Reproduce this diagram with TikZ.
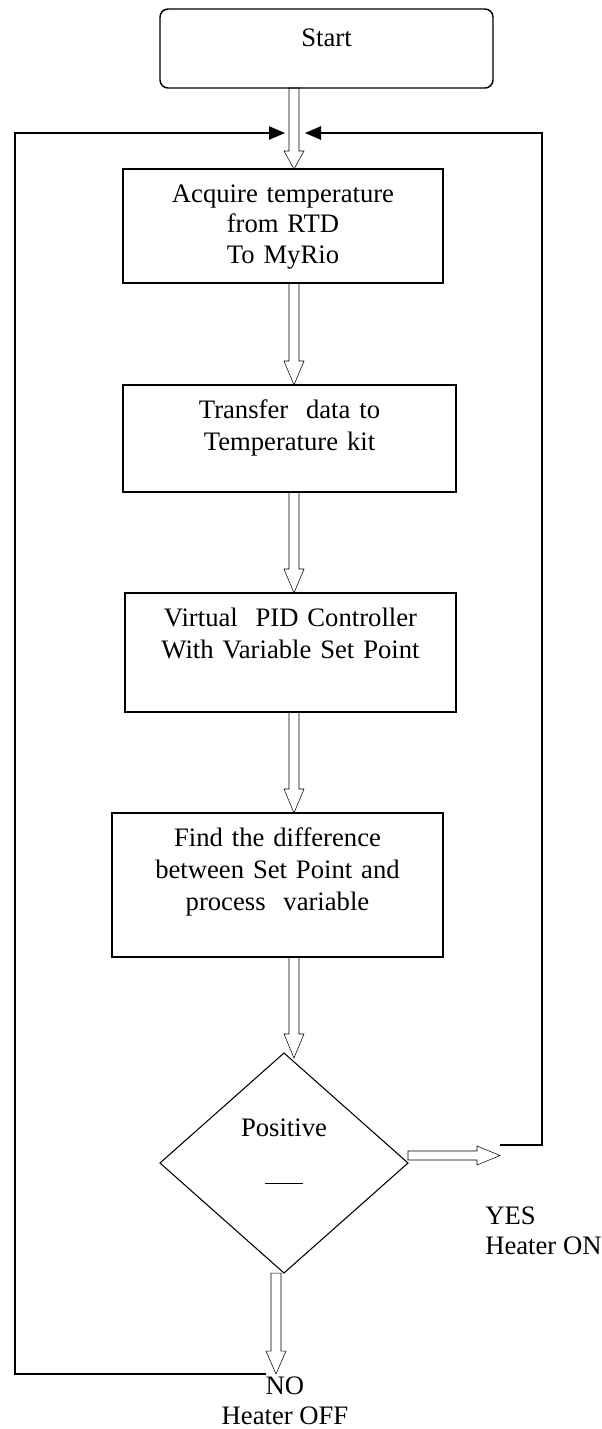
\documentclass[tikz,border=0pt]{standalone}
\usepackage{fontspec}
\setmainfont{Liberation Serif}
\usepackage{tikz}
\usetikzlibrary{arrows.meta,positioning,calc,shapes.geometric}
\tikzset{
  startbox/.style={
    rounded corners=6pt,draw=black,line width=1.1pt,
    text width=249.75pt,align=center,inner sep=0pt,outer sep=0pt,
    text height=27.75pt,text depth=31.5pt,
    font=\fontsize{20pt}{24pt}\selectfont
  },
  procbox/.style={
    draw=black,line width=1.1pt,text width=#1,align=center,
    inner sep=0pt,outer sep=0pt,text height=24.75pt,
    font=\fontsize{20pt}{24pt}\selectfont
  },
  decision/.style={
    diamond,draw=black,line width=.8pt,inner sep=0pt,outer sep=0pt,
    minimum width=186pt,minimum height=165pt,align=center,
    font=\fontsize{20pt}{24pt}\selectfont
  },
  lbl/.style={inner sep=0pt,font=\fontsize{20pt}{22.5pt}\selectfont},
  vblock/.style={line width=.8pt,to path={
    ($(\tikztostart)+(-5,0)$) -- ($(\tikztotarget)+(-5,-#1)$)
    -- ($(\tikztotarget)+(-10,-#1)$) -- (\tikztotarget)
    -- ($(\tikztotarget)+(10,-#1)$) -- ($(\tikztotarget)+(5,-#1)$)
    -- ($(\tikztostart)+(5,0)$) -- cycle}},
  vblock/.default=24,
  hblock/.style={line width=.8pt,to path={
    ($(\tikztostart)+(0,-4.5)$) -- ($(\tikztotarget)+(-#1,-4.5)$)
    -- ($(\tikztotarget)+(-#1,-9.5)$) -- (\tikztotarget)
    -- ($(\tikztotarget)+(-#1,9.5)$) -- ($(\tikztotarget)+(-#1,4.5)$)
    -- ($(\tikztostart)+(0,4.5)$) -- cycle}},
  hblock/.default=23,
  feedback/.style={-{Triangle[length=12pt,width=10pt]},draw=black,line width=1.1pt}
}
\begin{document}
\begin{tikzpicture}[x=0.75pt,y=-0.75pt]
\useasboundingbox (0,0) rectangle (602,1429);

\node[startbox] (start) at (326.5,48.5) {Start};
\node[procbox=240pt,below=60.75pt of start,xshift=-32.625pt,text depth=60.75pt,
  font=\fontsize{20pt}{23pt}\selectfont] (acq) {Acquire temperature\\from RTD\\To MyRio};
\node[procbox=249.75pt,below=76.5pt of acq,xshift=4.875pt,text depth=55.5pt] (trans)
  {Transfer\ \ data to\\Temperature kit};
\node[procbox=248.25pt,below=75.75pt of trans,xshift=.75pt,text depth=64.5pt] (pid)
  {Virtual\ \ PID Controller\\With Variable Set Point};
\node[procbox=248.25pt,below=75.75pt of pid,xshift=-9.75pt,text depth=83.25pt] (find)
  {Find the difference\\between Set Point and\\process\ \ variable};
\node[decision,below=72pt of find,xshift=4.875pt,text height=63pt,text depth=31.5pt] (dia)
  {Positive\\[12pt]\rule{28.5pt}{.8pt}};

\coordinate (axis) at (294,0);
\coordinate (ltip) at ($(acq.north -| axis)+(-9,-36)$);
\coordinate (rtip) at ($(acq.north -| axis)+(11,-36)$);
\coordinate (lcorner) at (15,133);
\coordinate (rcorner) at (542,133);
\coordinate (notip) at ($(dia.south)+(-8,101)$);
\coordinate (yestip) at ($(dia.east)+(92,-7.5)$);

\node[lbl,below right=38.625pt and -11.25pt of yestip,align=left] (yes) {YES\\Heater ON};
\node[lbl,below=2pt of notip,xshift=6.75pt,align=center,
  font=\fontsize{20pt}{22.5pt}\selectfont] (no) {NO\\Heater OFF};

\draw (start.south -| axis) to[vblock=18] (acq.north -| axis);
\draw (acq.south -| axis) to[vblock] (trans.north -| axis);
\draw (trans.south -| axis) to[vblock] (pid.north -| axis);
\draw (pid.south -| axis) to[vblock] (find.north -| axis);
\draw (find.south -| axis) to[vblock] ($(dia.north -| axis)+(0,5)$);
\draw ($(dia.east)+(0,-7.5)$) to[hblock] (yestip);
\draw ($(dia.south)+(-8,0)$) to[vblock=23] (notip);

\draw[feedback] ($(notip)+(-10,0)$) -| (lcorner) -- (ltip);
\draw[feedback] ($(yestip)+(0,-10.5)$) -| (rcorner) -- (rtip);
\end{tikzpicture}
\end{document}
